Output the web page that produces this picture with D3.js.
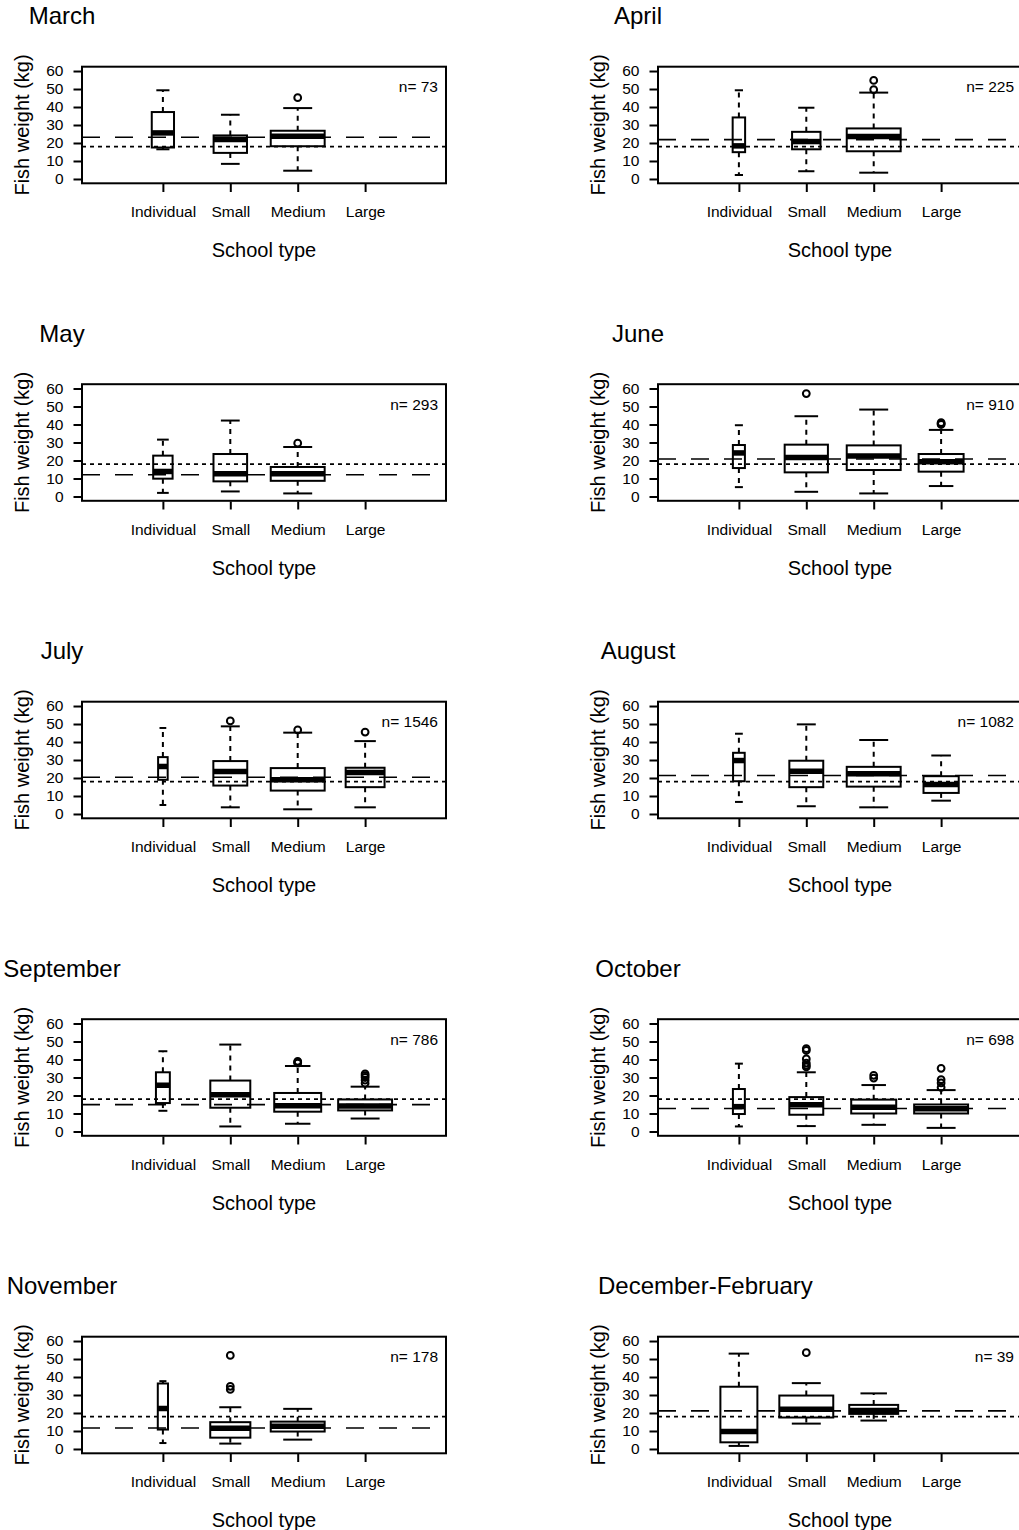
<!DOCTYPE html>
<html>
<head>
<meta charset="utf-8">
<script src="https://cdn.jsdelivr.net/npm/d3@7"></script>
<style>
  body { margin: 0; background: #fff; }
  svg { display: block; font-family: "Liberation Sans", Arial, sans-serif; }
</style>
</head>
<body>
<div id="chart"></div>
<script>
// panels in reading order, two per row
var months = ['March', 'April', 'May', 'June', 'July', 'August',
  'September', 'October', 'November', 'December-February'];
var sampleSizes = [73, 225, 293, 910, 1546, 1082, 786, 698, 178, 39];
var schoolTypes = ['Individual', 'Small', 'Medium', 'Large'];
var yTicks = [0, 10, 20, 30, 40, 50, 60];

// fish per school type (varwidth)
var groupCounts = [
  [8, 18, 47, 0],
  [9, 47, 169, 0],
  [25, 75, 193, 0],
  [19, 245, 381, 265],
  [25, 314, 794, 413],
  [27, 229, 579, 247],
  [22, 182, 251, 331],
  [16, 129, 227, 326],
  [4, 62, 112, 0],
  [8, 17, 14, 0]
];

// [lower whisker, Q1, median, Q3, upper whisker], null = no fish
var boxStats = [
  [[16.5, 17.5, 25.6, 37.2, 49.3], [8.4, 14.5, 21.9, 24.2, 35.7], [4.6, 18.2, 23.8, 26.8, 39.4], null],
  [[2.2, 14.9, 18.4, 34.2, 49.3], [4.3, 16.5, 20.8, 26.2, 39.6], [3.5, 15.4, 23.6, 28.1, 48], null],
  [[2, 9.9, 13.9, 22.7, 31.6], [2.8, 8.4, 12.6, 23.6, 42.2], [1.7, 8.7, 12.6, 16.4, 27.5], null],
  [[5.2, 15.8, 24.2, 28.6, 39.6], [2.6, 13.4, 21.7, 28.8, 44.6], [1.7, 14.7, 22.5, 28.4, 48.3], [5.8, 13.8, 19.3, 23.6, 37]],
  [[5, 19, 26.4, 31.6, 47.8], [3.7, 15.8, 23.6, 29.4, 48.7], [2.6, 13, 19, 25.5, 45.2], [3.7, 14.9, 23, 25.7, 40.5]],
  [[6.7, 18.2, 29.7, 34, 44.6], [4.3, 14.9, 23.8, 29.6, 49.8], [3.7, 15.2, 22.3, 26.2, 41.1], [7.4, 11.7, 16.4, 21, 32.5]],
  [[11.5, 15.8, 25.7, 32.9, 44.6], [2.8, 13.2, 20.4, 28.3, 48.3], [4.3, 11, 14.3, 21.4, 36.4], [7.2, 11.7, 14.1, 17.8, 24.9]],
  [[2.8, 9.7, 13.8, 23.6, 37.7], [3, 9.3, 14.9, 19.1, 32.9], [3.7, 10, 13.4, 17.7, 25.8], [2, 10, 12.6, 15, 23]],
  [[3.3, 10.8, 22.5, 36.4, 37.7], [3, 6.3, 11.5, 14.9, 23.2], [5.2, 9.7, 12.6, 15.2, 22.3], null],
  [[1.7, 3.7, 9.7, 34.6, 53], [14.1, 17.5, 22.1, 29.7, 36.6], [15.8, 19.5, 21.4, 24.5, 30.9], null]
];

var outliers = [
  [[], [], [45.2], []],
  [[], [], [49.6, 54.8], []],
  [[], [], [29.6], []],
  [[], [57.2], [], [40, 40.5, 41]],
  [[], [51.7], [46.7], [45.5]],
  [[], [], [], []],
  [[], [], [38, 38.5, 39], [26.8, 28.5, 30, 31, 32]],
  [[], [35.9, 36.8, 38, 40.3, 45, 46], [29.7, 31.2], [24.5, 27, 28.8, 35.1]],
  [[], [33.1, 34.8, 52], [], []],
  [[], [53.5], [], []]
];

// long-dashed line per panel, short-dashed line is the same everywhere
var refLong = [23.2, 21.9, 12.1, 20.8, 20.4, 21.4, 14.9, 12.8, 11.7, 21.2];
var refShort = 18;

var W = 1019, H = 1530;
var colOffset = 576, rowOffset = 317.5;
var lw = 2;

var svg = d3.select('#chart').append('svg')
  .attr('width', W)
  .attr('height', H);

months.forEach(function (name, i) {
  var ox = (i % 2) * colOffset,
    oy = Math.floor(i / 2) * rowOffset;

  var g = svg.append('g').attr('transform', 'translate(' + ox + ',' + oy + ')');

  // R style: xlim 0..5 and ylim 0..60, each widened by 4%
  var x = d3.scaleLinear().domain([-0.2, 5.2]).range([82, 446]);
  var y = d3.scaleLinear().domain([-2.4, 62.4]).range([183.3, 66.7]);
  var unit = x(1) - x(0);

  // title (the long season name is set from the left in the original)
  var long = name.length > 12;
  g.append('text')
    .attr('x', long ? 22 : 62)
    .attr('y', 24)
    .attr('text-anchor', long ? 'start' : 'middle')
    .style('font-size', '24px')
    .text(name);

  // y axis
  var yAxis = g.append('g')
    .attr('transform', 'translate(' + x(-0.2) + ',0)')
    .call(d3.axisLeft(y).tickValues(yTicks).tickSize(8.5).tickPadding(10));
  yAxis.select('.domain').remove();
  yAxis.selectAll('line').attr('stroke-width', lw);
  yAxis.selectAll('text').style('font-size', '15.5px').attr('font-family', null);

  // x axis, ticks only
  var xAxis = g.append('g')
    .attr('transform', 'translate(0,184)')
    .call(d3.axisBottom(x).tickValues([1, 2, 3, 4])
      .tickFormat(function (d) { return schoolTypes[d - 1] })
      .tickSize(8).tickPadding(14));
  xAxis.select('.domain').remove();
  xAxis.selectAll('line').attr('stroke-width', lw);
  xAxis.selectAll('text').style('font-size', '15.5px').attr('font-family', null);

  // axis titles
  g.append('text')
    .attr('x', (x(-0.2) + x(5.2)) / 2)
    .attr('y', 257)
    .attr('text-anchor', 'middle')
    .style('font-size', '20px')
    .text('School type');

  g.append('text')
    .attr('transform', 'translate(29,' + (y(-2.4) + y(62.4)) / 2 + ') rotate(-90)')
    .attr('text-anchor', 'middle')
    .style('font-size', '20px')
    .text('Fish weight (kg)');

  // boxes
  var maxN = d3.max(groupCounts[i]);
  var groups = boxStats[i].map(function (s, j) {
    return { s: s, pos: j + 1, w: 0.8 * Math.sqrt(groupCounts[i][j] / maxN) * unit, out: outliers[i][j] };
  }).filter(function (d) { return d.s !== null });

  var box = g.append('g').selectAll('g')
    .data(groups)
    .enter()
    .append('g')
    .attr('stroke', '#000')
    .attr('fill', 'none');

  // whiskers
  box.append('line')
    .attr('x1', function (d) { return x(d.pos) })
    .attr('x2', function (d) { return x(d.pos) })
    .attr('y1', function (d) { return y(d.s[3]) })
    .attr('y2', function (d) { return y(d.s[4]) })
    .attr('stroke-width', lw)
    .attr('stroke-dasharray', '5,5');
  box.append('line')
    .attr('x1', function (d) { return x(d.pos) })
    .attr('x2', function (d) { return x(d.pos) })
    .attr('y1', function (d) { return y(d.s[1]) })
    .attr('y2', function (d) { return y(d.s[0]) })
    .attr('stroke-width', lw)
    .attr('stroke-dasharray', '5,5');

  // staples
  [0, 4].forEach(function (k) {
    box.append('line')
      .attr('x1', function (d) { return x(d.pos) - d.w / 4 - 1 })
      .attr('x2', function (d) { return x(d.pos) + d.w / 4 + 1 })
      .attr('y1', function (d) { return y(d.s[k]) })
      .attr('y2', function (d) { return y(d.s[k]) })
      .attr('stroke-width', lw);
  });

  box.append('rect')
    .attr('x', function (d) { return x(d.pos) - d.w / 2 })
    .attr('y', function (d) { return y(d.s[3]) })
    .attr('width', function (d) { return d.w })
    .attr('height', function (d) { return y(d.s[1]) - y(d.s[3]) })
    .attr('stroke-width', lw);

  box.append('line')
    .attr('x1', function (d) { return x(d.pos) - d.w / 2 })
    .attr('x2', function (d) { return x(d.pos) + d.w / 2 })
    .attr('y1', function (d) { return y(d.s[2]) })
    .attr('y2', function (d) { return y(d.s[2]) })
    .attr('stroke-width', 5.5);

  // outliers
  box.selectAll('circle')
    .data(function (d) { return d.out.map(function (v) { return { pos: d.pos, v: v } }) })
    .enter()
    .append('circle')
    .attr('cx', function (d) { return x(d.pos) })
    .attr('cy', function (d) { return y(d.v) })
    .attr('r', 3.4)
    .attr('stroke-width', lw);

  // reference lines
  g.append('line')
    .attr('x1', x(-0.2)).attr('x2', x(5.2))
    .attr('y1', y(refLong[i])).attr('y2', y(refLong[i]))
    .attr('stroke', '#000').attr('stroke-width', 1.6)
    .attr('stroke-dasharray', '18,15');
  g.append('line')
    .attr('x1', x(-0.2)).attr('x2', x(5.2))
    .attr('y1', y(refShort)).attr('y2', y(refShort))
    .attr('stroke', '#000').attr('stroke-width', 1.6)
    .attr('stroke-dasharray', '4,4');

  // frame
  g.append('rect')
    .attr('x', x(-0.2))
    .attr('y', y(62.4))
    .attr('width', x(5.2) - x(-0.2))
    .attr('height', y(-2.4) - y(62.4))
    .attr('fill', 'none')
    .attr('stroke', '#000')
    .attr('stroke-width', lw);

  g.append('text')
    .attr('x', 438)
    .attr('y', 92)
    .attr('text-anchor', 'end')
    .style('font-size', '15.5px')
    .text('n= ' + sampleSizes[i]);
});
</script>
</body>
</html>
